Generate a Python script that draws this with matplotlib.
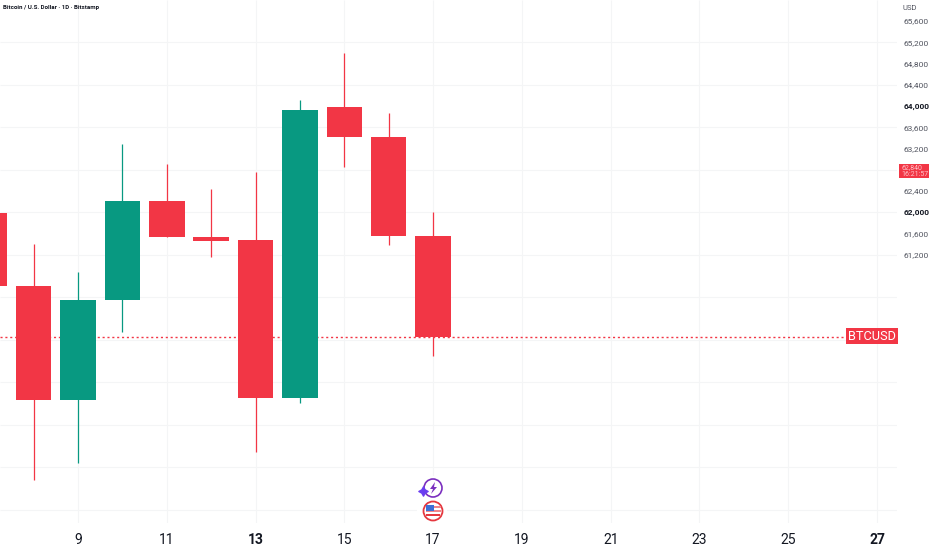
import matplotlib
matplotlib.use('Agg')
import matplotlib.pyplot as plt
from matplotlib.patches import Circle, Rectangle, Polygon
from matplotlib.ticker import FuncFormatter

plt.rcParams['font.family'] = ['Roboto', 'DejaVu Sans']

# daily candles
days = [7, 8, 9, 10, 11, 12, 13, 14, 15, 16, 17]
opens = [61986, 60612, 58466, 60348, 62212, 61534, 61478, 58504, 63981, 63416, 61553]
closes = [60612, 58466, 60348, 62212, 61534, 61459, 58504, 63925, 63416, 61553, 59652]
highs = [62500, 61402, 60875, 63285, 62908, 62438, 62758, 64113, 64998, 63868, 62005]
lows = [60100, 56960, 57280, 59746, 61534, 61158, 57487, 58409, 62852, 61384, 59294]

x_ticks = [9, 11, 13, 15, 17, 19, 21, 23, 25, 27]
bold_x = [13, 27]
price_ticks = [61200, 61600, 62000, 62400, 63200, 63600, 64000, 64400, 64800, 65200, 65600]
bold_prices = [62000, 64000]
grid_prices = [56400, 57200, 58000, 58800, 59600, 60400, 61200, 62000, 62800, 63600, 64400, 65200]
last_price = 59652
scale_price = 62840

RED = '#F23645'
GREEN = '#089981'
GRID = '#F4F5F6'
TEXT = '#131722'
W, H = 932, 550

fig = plt.figure(figsize=(W / 100, H / 100), dpi=100, facecolor='white')
ax = fig.add_axes([0, 1 - 523 / H, 897 / W, 523 / H])


# pixel position of the chart -> data value
def px_day(px):
    return 9 + (px - 78) / 44.39


def px_price(py):
    return 64000 - (py - 106) * 400 / 21.25


ax.set_xlim(px_day(0), px_day(897))
ax.set_ylim(px_price(523), px_price(0))

for s in ax.spines.values():
    s.set_visible(False)

ax.hlines(grid_prices, px_day(0), px_day(897), color=GRID, lw=0.8, zorder=0)
ax.vlines(x_ticks, px_price(523), px_price(0), color=GRID, lw=0.8, zorder=0)

colors = [GREEN if c > o else RED for o, c in zip(opens, closes)]
ax.vlines(days, lows, highs, color=colors, lw=0.9, zorder=2)
ax.bar(days, [abs(c - o) for o, c in zip(opens, closes)],
       bottom=[min(o, c) for o, c in zip(opens, closes)],
       width=0.8, color=colors, zorder=3)

ax.plot([px_day(0), px_day(846)], [last_price, last_price], color=RED, lw=1,
        linestyle=(0, (1.5, 2)), zorder=1)

ax.set_xticks(x_ticks)
ax.tick_params(axis='x', length=0, pad=7, labelsize=10, colors=TEXT)
for lab, d in zip(ax.get_xticklabels(), x_ticks):
    if d in bold_x:
        lab.set_fontweight('bold')

ax.yaxis.tick_right()
ax.set_yticks(price_ticks)
ax.yaxis.set_major_formatter(FuncFormatter(lambda v, p: f'{int(v):,}'))
ax.tick_params(axis='y', length=0, pad=5, labelsize=6, colors='#50535E')
for lab, v in zip(ax.get_yticklabels(), price_ticks):
    if v in bold_prices:
        lab.set_fontweight('bold')
        lab.set_color(TEXT)

# header and price scale bits
fig.text(3 / W, 1 - 7 / H, 'Bitcoin / U.S. Dollar · 1D · Bitstamp', fontsize=4.4,
         color=TEXT, va='center', fontweight='bold')
fig.text(910 / W, 1 - 7.5 / H, 'USD', fontsize=5.5, color='#50535E', ha='center', va='center')

# current price box on the scale
fig.patches.append(Rectangle((899 / W, 1 - 178 / H), 30 / W, 14 / H, transform=fig.transFigure,
                             facecolor=RED, edgecolor='none'))
fig.text(901 / W, 1 - 167.5 / H, f'{scale_price:,}', fontsize=5, color='#FFC2C8', va='center')
fig.text(901 / W, 1 - 174.5 / H, '16:21:57', fontsize=5, color='#FFC2C8', va='center')

# symbol label on the last price line
fig.patches.append(Rectangle((846 / W, 1 - 344 / H), 52 / W, 16 / H, transform=fig.transFigure,
                             facecolor=RED, edgecolor='none'))
fig.text(872 / W, 1 - 336.3 / H, 'BTCUSD', fontsize=9.2, color='white', ha='center', va='center')

# event icons below the candles, drawn in a small pixel-sized axes
icon = fig.add_axes([412 / W, 1 - 527 / H, 40 / W, 52 / H], zorder=5)
icon.set_xlim(412, 452)
icon.set_ylim(527, 475)
icon.axis('off')
icon.add_patch(Rectangle((417, 476), 30, 50, facecolor='white', edgecolor='none'))
icon.add_patch(Circle((433, 488), 9, facecolor='white', edgecolor='#7B2FBF', lw=1.2))
icon.add_patch(Polygon([[435, 482], [430, 489], [433, 489], [431, 494], [437, 487], [434, 487]],
                       facecolor='#7B2FBF', edgecolor='none'))
icon.scatter([423], [491], marker=(4, 1, 0), s=45, color='#6A3DF0', zorder=6)
icon.add_patch(Circle((433, 511), 9.5, facecolor='white', edgecolor='#E5383F', lw=1.3))
icon.add_patch(Rectangle((425.5, 506), 15, 2, facecolor='#F0868B', edgecolor='none'))
icon.add_patch(Rectangle((425.5, 510), 15, 2, facecolor='#F0868B', edgecolor='none'))
icon.add_patch(Rectangle((426, 514), 14, 2, facecolor='#E5383F', edgecolor='none'))
icon.add_patch(Rectangle((426, 505), 8, 6, facecolor='#3D6FD6', edgecolor='none'))

fig.savefig('out.png', dpi=100)
